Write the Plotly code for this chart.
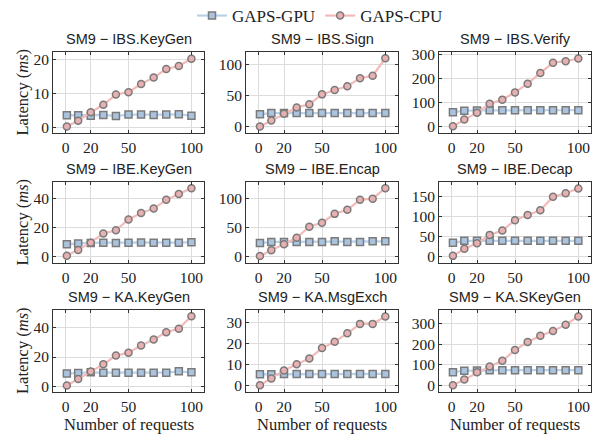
import plotly.graph_objects as go

x_requests = [1, 10, 20, 30, 40, 50, 60, 70, 80, 90, 100]

titles = ["SM9 \u2212 IBS.KeyGen", "SM9 \u2212 IBS.Sign", "SM9 \u2212 IBS.Verify",
          "SM9 \u2212 IBE.KeyGen", "SM9 \u2212 IBE.Encap", "SM9 \u2212 IBE.Decap",
          "SM9 \u2212 KA.KeyGen", "SM9 \u2212 KA.MsgExch", "SM9 \u2212 KA.SKeyGen"]

gpu_ibs_keygen = [3.6, 3.6, 3.5, 3.7, 3.4, 3.8, 3.8, 3.7, 3.8, 3.9, 3.5]
cpu_ibs_keygen = [0.3, 2.0, 4.5, 6.7, 9.7, 10.4, 12.8, 14.7, 17.2, 18.1, 20.2]
gpu_ibs_sign = [20, 22, 22, 22, 22, 22, 22, 22, 22, 22, 22]
cpu_ibs_sign = [0.5, 10, 21, 31, 36, 52, 59, 65, 78, 82, 110]
gpu_ibs_verify = [60, 66, 67, 68, 68, 68, 68, 68, 68, 68, 68]
cpu_ibs_verify = [2, 30, 58, 95, 112, 142, 178, 222, 265, 271, 282]
gpu_ibe_keygen = [8.5, 9.0, 9.3, 9.5, 9.3, 9.5, 9.7, 9.5, 9.5, 9.5, 9.8]
cpu_ibe_keygen = [0.5, 4.5, 9.5, 15.8, 18, 25.5, 30, 33, 39, 43, 47]
gpu_ibe_encap = [23, 25, 25, 25, 25, 25, 26, 25, 25, 26, 26]
cpu_ibe_encap = [1, 11, 21, 32, 51, 58, 73, 80, 97, 99, 117]
gpu_ibe_decap = [34, 39, 39, 39, 39, 39, 39, 39, 39, 39, 39]
cpu_ibe_decap = [1, 19, 33, 54, 65, 91, 104, 116, 150, 159, 171]
gpu_ka_keygen = [8.7, 9.0, 9.5, 9.3, 9.3, 9.3, 9.3, 9.3, 9.3, 10.2, 9.5]
cpu_ka_keygen = [0.5, 5, 10, 15, 21, 23, 28, 32, 37, 39.5, 48]
gpu_ka_msgexch = [5.5, 5.5, 5.7, 5.7, 5.7, 5.7, 5.7, 5.7, 5.7, 5.7, 5.7]
cpu_ka_msgexch = [0.3, 3.5, 7.3, 10.3, 13, 18, 21, 25, 29.5, 29.5, 33]
gpu_ka_skeygen = [65, 72, 73, 75, 75, 75, 75, 75, 75, 75, 75]
cpu_ka_skeygen = [2, 30, 65, 93, 120, 172, 210, 240, 263, 293, 333]

gpu_series = [gpu_ibs_keygen, gpu_ibs_sign, gpu_ibs_verify, gpu_ibe_keygen, gpu_ibe_encap,
              gpu_ibe_decap, gpu_ka_keygen, gpu_ka_msgexch, gpu_ka_skeygen]
cpu_series = [cpu_ibs_keygen, cpu_ibs_sign, cpu_ibs_verify, cpu_ibe_keygen, cpu_ibe_encap,
              cpu_ibe_decap, cpu_ka_keygen, cpu_ka_msgexch, cpu_ka_skeygen]

y_ranges = [[-1.6, 22.2], [-10, 120], [-26, 309], [-4.5, 51.3], [-11, 127.5],
            [-17, 187.5], [-4, 52.3], [-2.9, 36.1], [-30, 364]]
y_dticks = [10, 50, 100, 20, 50, 50, 20, 10, 100]
x_ticks = [0, 20, 50, 100]

# page has an 8px body margin; figure coordinates = page coordinates - OFF
OFF = 8
W, H = 600 - OFF, 434 - OFF
col_px = [(53, 204), (246, 398), (439, 591)]
row_px = [(52, 133), (182, 263), (310, 392)]


def px_x(p):
    return (p - OFF) / W


def px_y(p):
    return 1 - (p - OFF) / H


serif = "Liberation Serif"
sans = "Liberation Sans"
gpu_line = "#b8d2ec"
gpu_fill = "#aac4e0"
cpu_line = "#f4baba"
cpu_fill = "#e8b0b0"
edge = "#7a7a7a"

fig = go.Figure()
annotations = []
for i in range(9):
    r, c = divmod(i, 3)
    n = i + 1
    xa = "x" if n == 1 else f"x{n}"
    ya = "y" if n == 1 else f"y{n}"
    fig.add_trace(go.Scatter(
        x=x_requests, y=gpu_series[i], mode="lines+markers", name="GAPS-GPU",
        line=dict(color=gpu_line, width=2.2),
        marker=dict(symbol="square", size=7, color=gpu_fill, line=dict(color=edge, width=1.5)),
        xaxis=xa, yaxis=ya, showlegend=(i == 0), legendgroup="gpu"))
    fig.add_trace(go.Scatter(
        x=x_requests, y=cpu_series[i], mode="lines+markers", name="GAPS-CPU",
        line=dict(color=cpu_line, width=2.2),
        marker=dict(symbol="circle", size=7, color=cpu_fill, line=dict(color=edge, width=1.5)),
        xaxis=xa, yaxis=ya, showlegend=(i == 0), legendgroup="cpu"))
    x0, x1 = col_px[c]
    y0, y1 = row_px[r]
    dom_x = [px_x(x0), px_x(x1)]
    dom_y = [px_y(y1), px_y(y0)]
    key_x = "xaxis" if n == 1 else f"xaxis{n}"
    key_y = "yaxis" if n == 1 else f"yaxis{n}"
    common = dict(showline=True, linecolor="#333333", linewidth=1, mirror="ticks",
                  ticks="inside", ticklen=3, tickcolor="#333333",
                  showgrid=True, gridcolor="#dcdcdc", gridwidth=1.3, zeroline=False,
                  tickfont=dict(family=serif, size=15.5, color="#222"))
    fig.update_layout({
        key_x: dict(domain=dom_x, anchor=ya, range=[-10, 110], tickvals=x_ticks, **common),
        key_y: dict(domain=dom_y, anchor=xa, range=y_ranges[i], dtick=y_dticks[i], tick0=0, **common),
    })
    annotations.append(dict(text=titles[i], x=px_x((x0 + x1) / 2), y=px_y(y0 - 13),
                            xref="paper", yref="paper", showarrow=False,
                            font=dict(family=sans, size=14.5, color="#222"),
                            xanchor="center", yanchor="middle"))
    if c == 0:
        annotations.append(dict(text="Latency (<i>ms</i>)", x=px_x(22), y=px_y((y0 + y1) / 2),
                                xref="paper", yref="paper", showarrow=False, textangle=-90,
                                font=dict(family=serif, size=16.5, color="#222"),
                                xanchor="center", yanchor="middle"))
    if r == 2:
        annotations.append(dict(text="Number of requests", x=px_x((x0 + x1) / 2), y=px_y(424),
                                xref="paper", yref="paper", showarrow=False,
                                font=dict(family=serif, size=16.5, color="#222"),
                                xanchor="center", yanchor="middle"))

fig.update_layout(
    width=W, height=H, margin=dict(l=0, r=0, t=0, b=0, autoexpand=False),
    paper_bgcolor="white", plot_bgcolor="white",
    annotations=annotations,
    legend=dict(orientation="h", x=px_x(320), xanchor="center", y=px_y(16), yanchor="middle",
                font=dict(family=serif, size=17, color="#222"),
                tracegroupgap=0),
)

fig.write_html("out.html")
